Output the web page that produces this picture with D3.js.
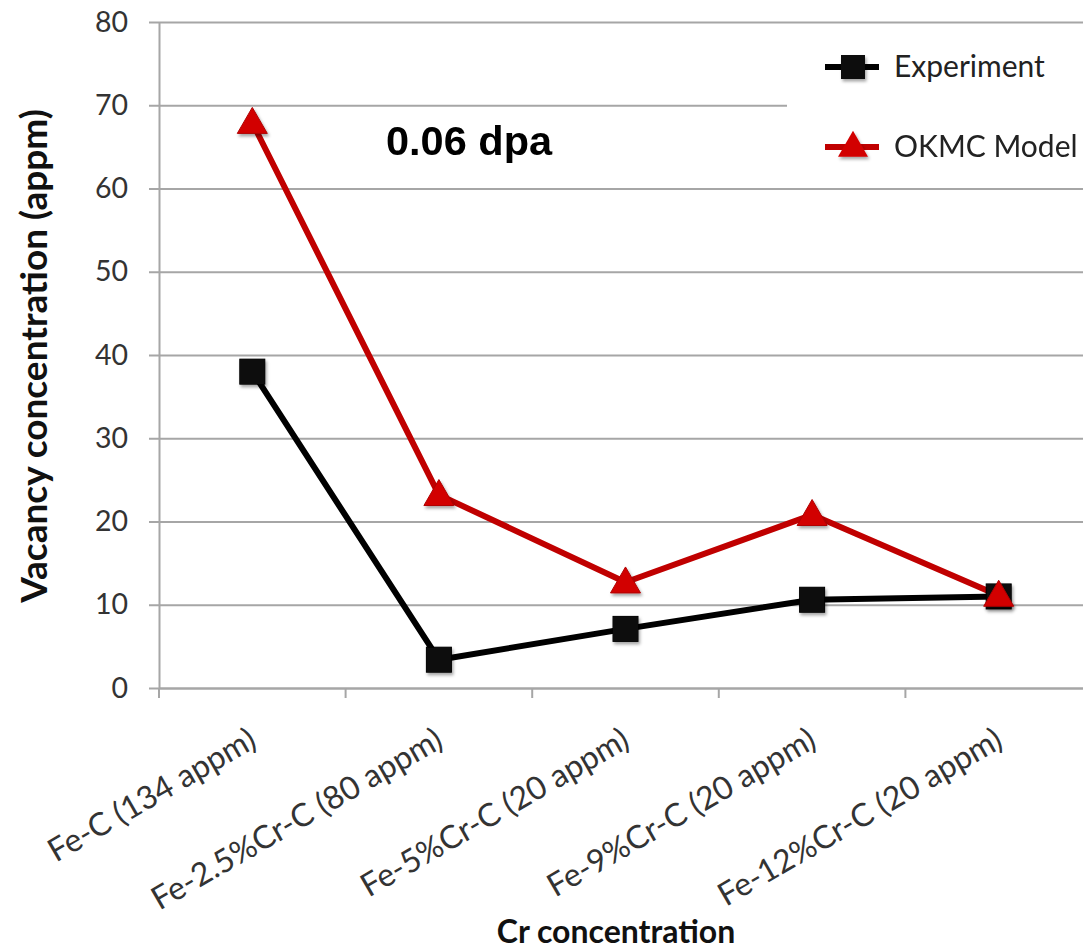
<!DOCTYPE html>
<html>
<head>
<meta charset="utf-8">
<script src="https://cdn.jsdelivr.net/npm/d3@7"></script>
<style>
  html, body { margin: 0; padding: 0; background: #fff; }
  svg { display: block; }
</style>
</head>
<body>
<svg id="chart" width="1083" height="951"></svg>
<script>
// Alloy samples along the x axis
const categories = [
  "Fe-C (134 appm)",
  "Fe-2.5%Cr-C (80 appm)",
  "Fe-5%Cr-C (20 appm)",
  "Fe-9%Cr-C (20 appm)",
  "Fe-12%Cr-C (20 appm)"
];
// Vacancy concentration (appm)
const experiment = [38.0, 3.4, 7.1, 10.6, 11.0];
const okmcModel  = [67.9, 23.2, 12.7, 20.8, 11.1];
const yTicks = [0, 10, 20, 30, 40, 50, 60, 70, 80];
const seriesNames = ["Experiment", "OKMC Model"];

const svg = d3.select("#chart");
const plot = { left: 159, right: 1092, top: 22, bottom: 688 };

const x = d3.scaleBand().domain(categories).range([plot.left, plot.right]);
const y = d3.scaleLinear().domain([0, 80]).range([plot.bottom, plot.top]);

const gridColor = "#a6a6a6";
const labelFont = "Lato, 'Open Sans', sans-serif";

// drop shadow used by the markers
const defs = svg.append("defs");
const shadow = defs.append("filter").attr("id", "shadow")
  .attr("x", "-30%").attr("y", "-30%").attr("width", "160%").attr("height", "160%");
shadow.append("feDropShadow").attr("dx", 1.5).attr("dy", 2.5)
  .attr("stdDeviation", 1.5).attr("flood-color", "#000").attr("flood-opacity", 0.35);

// horizontal gridlines + y axis
const yAxis = d3.axisLeft(y).tickValues(yTicks)
  .tickSize(-(plot.right - plot.left)).tickSizeOuter(0).tickPadding(31);
const gy = svg.append("g").attr("transform", `translate(${plot.left},0)`).call(yAxis);
gy.select(".domain").attr("stroke", gridColor).attr("stroke-width", 2);
gy.selectAll(".tick line").attr("stroke", gridColor).attr("stroke-width", 2).attr("x1", -10);
gy.selectAll(".tick text")
  .attr("fill", "#333").attr("font-family", labelFont).attr("font-size", 28.5);

// x axis with ticks between categories
const xAxis = d3.axisBottom(x).tickSize(0).tickSizeOuter(0);
const gx = svg.append("g").attr("transform", `translate(0,${plot.bottom})`).call(xAxis);
gx.select(".domain").attr("stroke", gridColor).attr("stroke-width", 2);
gx.selectAll(".tick line").remove();
gx.selectAll(".tick text")
  .attr("fill", "#333").attr("font-family", labelFont).attr("font-size", 32)
  .attr("text-anchor", "end")
  .attr("transform", "translate(6,58) rotate(-30)")
  .attr("x", 0).attr("y", 0).attr("dy", 0);
const boundaries = categories.map(c => x(c)).concat([plot.right]);
gx.selectAll("line.sep").data(boundaries).join("line").attr("class", "sep")
  .attr("x1", d => d).attr("x2", d => d).attr("y1", 0).attr("y2", 10)
  .attr("stroke", gridColor).attr("stroke-width", 2);

// series
const cx = c => x(c) + x.bandwidth() / 2;
const line = d3.line().x((d, i) => cx(categories[i])).y(d => y(d));

const expColor = "#000000";
const okmcColor = "#c00000";
const okmcFill = "#d20000";
const sqSize = 25;
const triPath = d3.symbol().type(d3.symbolTriangle).size(390)();

svg.append("path").datum(experiment).attr("d", line)
  .attr("fill", "none").attr("stroke", expColor).attr("stroke-width", 6)
  .attr("stroke-linejoin", "round");
svg.append("path").datum(okmcModel).attr("d", line)
  .attr("fill", "none").attr("stroke", okmcColor).attr("stroke-width", 6)
  .attr("stroke-linejoin", "round");

svg.append("g").attr("filter", "url(#shadow)").selectAll("rect").data(experiment).join("rect")
  .attr("x", (d, i) => cx(categories[i]) - sqSize / 2)
  .attr("y", d => y(d) - sqSize / 2)
  .attr("width", sqSize).attr("height", sqSize)
  .attr("fill", "#111").attr("stroke", "#000").attr("stroke-width", 1);

svg.append("g").attr("filter", "url(#shadow)").selectAll("path").data(okmcModel).join("path")
  .attr("d", triPath)
  .attr("transform", (d, i) => `translate(${cx(categories[i])},${y(d) + 2})`)
  .attr("fill", okmcFill).attr("stroke", "#b00000").attr("stroke-width", 1);

// legend
const legend = svg.append("g");
legend.append("rect").attr("x", 787).attr("y", 30).attr("width", 300).attr("height", 152)
  .attr("fill", "#fff");
const legendRows = [
  { name: seriesNames[0], color: expColor, marker: "square", y: 67 },
  { name: seriesNames[1], color: okmcColor, marker: "triangle", y: 147 }
];
legendRows.forEach(r => {
  legend.append("line").attr("x1", 825).attr("x2", 879).attr("y1", r.y).attr("y2", r.y)
    .attr("stroke", r.color).attr("stroke-width", 6);
  if (r.marker === "square") {
    legend.append("rect").attr("x", 853 - 12).attr("y", r.y - 12).attr("width", 24).attr("height", 24)
      .attr("fill", "#111").attr("filter", "url(#shadow)");
  } else {
    legend.append("path").attr("d", triPath).attr("transform", `translate(853,${r.y + 1})`)
      .attr("fill", okmcFill).attr("filter", "url(#shadow)");
  }
  legend.append("text").attr("x", 894).attr("y", r.y + 10)
    .attr("font-family", labelFont).attr("font-size", 30).attr("fill", "#222")
    .text(r.name);
});

// annotation
svg.append("text").attr("x", 386).attr("y", 155)
  .attr("font-family", "'Liberation Sans', Arial, sans-serif").attr("font-weight", "bold")
  .attr("font-size", 41.5).attr("fill", "#000").text("0.06 dpa");

// axis titles
svg.append("text")
  .attr("transform", `translate(47,356) rotate(-90)`)
  .attr("text-anchor", "middle")
  .attr("font-family", labelFont).attr("font-weight", "bold").attr("font-size", 37)
  .attr("fill", "#111").text("Vacancy concentration (appm)");
svg.append("text").attr("x", 616).attr("y", 943)
  .attr("text-anchor", "middle")
  .attr("font-family", labelFont).attr("font-weight", "bold").attr("font-size", 32)
  .attr("fill", "#111").text("Cr concentration");
</script>
</body>
</html>
